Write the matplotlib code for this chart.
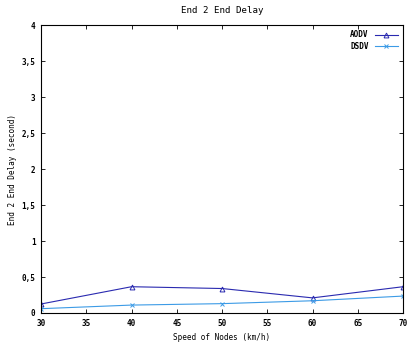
import matplotlib
matplotlib.use("Agg")
import matplotlib.pyplot as plt

# donnees
speed = [30, 40, 50, 60, 70]
aodv = [0.125, 0.365, 0.34, 0.21, 0.365]
dsdv = [0.06, 0.11, 0.13, 0.17, 0.235]

xticks = [30, 35, 40, 45, 50, 55, 60, 65, 70]
yticks = [0, 0.5, 1, 1.5, 2, 2.5, 3, 3.5, 4]
ylabels = ["0", "0,5", "1", "1,5", "2", "2,5", "3", "3,5", "4"]

plt.rcParams['font.family'] = 'DejaVu Sans Mono'
plt.rcParams['font.weight'] = 'bold'
plt.rcParams['font.size'] = 5.5

fig = plt.figure(figsize=(4.17, 3.45), dpi=100)
ax = fig.add_axes([41 / 417, 1 - 313 / 345, 362 / 417, 288 / 345])

ax.plot(speed, aodv, "-", color="#2a2ab0", lw=0.8, marker="^", ms=3.5,
        mfc="none", mew=0.7, label="AODV")
ax.plot(speed, dsdv, "-", color="#3c9be6", lw=0.8, marker="x", ms=3.5,
        mew=0.7, label="DSDV")

ax.set_xlim(30, 70)
ax.set_ylim(0, 4)
ax.set_xticks(xticks)
ax.set_yticks(yticks)
ax.set_yticklabels(ylabels)
ax.tick_params(direction="in", top=True, right=True, length=3, width=0.6, pad=4)
for s in ax.spines.values():
    s.set_linewidth(0.8)

ax.set_xlabel("Speed of Nodes (km/h)", labelpad=4)
ax.set_ylabel("End 2 End Delay (second)", labelpad=3)
ax.set_title("End 2 End Delay", pad=9)

ax.legend(loc="upper right", frameon=False, markerfirst=False,
          handlelength=3, borderaxespad=0.3, labelspacing=0.3)

fig.savefig("out.png", dpi=100)
